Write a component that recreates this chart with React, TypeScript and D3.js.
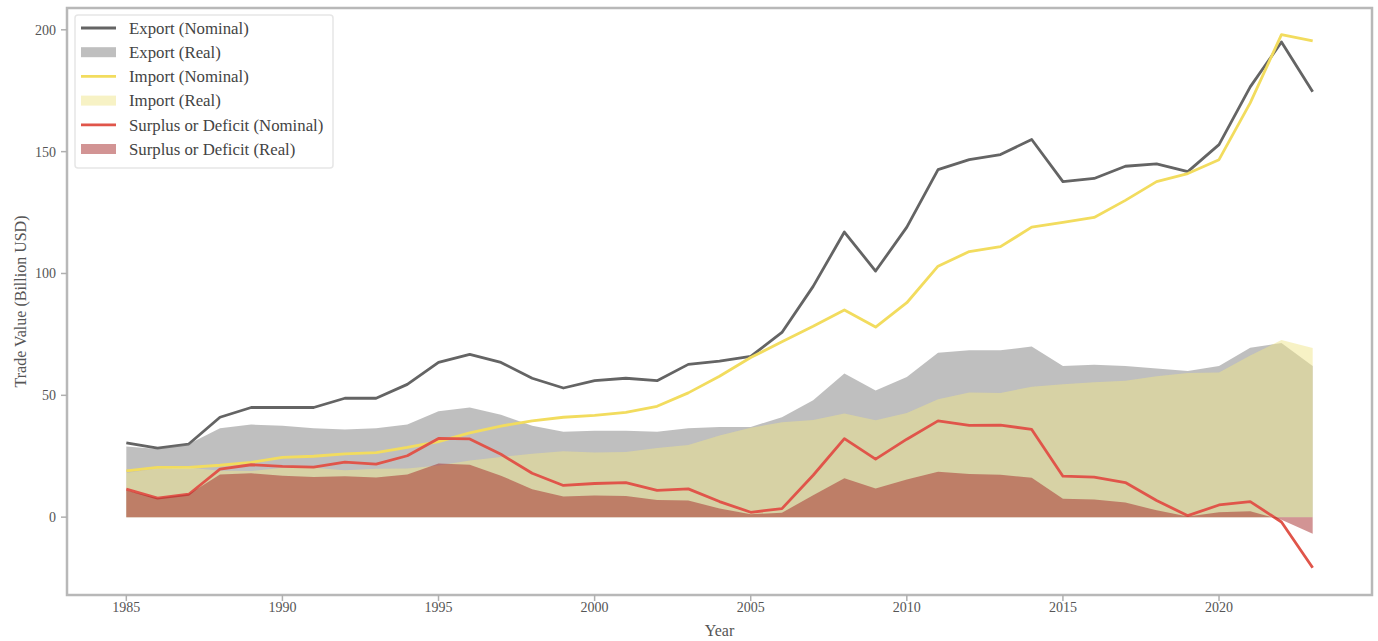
import React from "react";
import * as d3 from "d3";

const years: number[] = d3.range(1985, 2024);

const exportNominal: number[] = [30.5, 28.3, 30.0, 41.0, 45.0, 45.0, 45.0, 48.8, 48.8, 54.5, 63.5, 66.8, 63.5, 57.0, 53.0, 56.0, 57.0, 56.0, 62.7, 64.0, 66.0, 75.8, 94.7, 117.0, 101.0, 119.0, 142.6, 146.7, 148.8, 155.0, 137.7, 139.0, 144.0, 145.0, 141.8, 152.9, 176.6, 195.0, 174.6];
const importNominal: number[] = [19.0, 20.4, 20.4, 21.3, 22.5, 24.5, 25.0, 26.0, 26.5, 28.6, 31.0, 34.6, 37.4, 39.5, 41.0, 41.8, 43.0, 45.5, 51.0, 57.8, 65.5, 72.0, 78.3, 85.0, 78.0, 88.0, 103.0, 109.0, 111.0, 119.0, 121.0, 123.0, 130.0, 137.7, 141.0, 146.7, 170.0, 198.0, 195.5];
const surplusNominal: number[] = [11.5, 7.8, 9.4, 19.7, 21.5, 20.8, 20.5, 22.6, 21.8, 25.2, 32.3, 32.1, 25.8, 18.0, 13.0, 13.8, 14.2, 11.0, 11.6, 6.4, 2.0, 3.5, 17.2, 32.2, 23.8, 32.0, 39.5, 37.7, 37.8, 36.0, 16.8, 16.4, 14.2, 6.8, 0.6, 5.0, 6.4, -2.0, -20.8];
const exportReal: number[] = [29.0, 28.0, 30.0, 36.5, 38.0, 37.5, 36.5, 36.0, 36.5, 38.0, 43.5, 45.0, 42.0, 37.5, 35.0, 35.5, 35.5, 35.0, 36.5, 37.0, 37.0, 41.0, 48.0, 59.0, 52.0, 57.5, 67.5, 68.5, 68.5, 70.0, 62.0, 62.5, 62.0, 61.0, 60.0, 62.0, 69.5, 71.5, 62.0];
const importReal: number[] = [18.1, 20.0, 20.4, 19.0, 18.9, 20.3, 20.3, 19.2, 19.9, 20.0, 21.2, 23.2, 24.7, 26.0, 27.0, 26.5, 26.7, 28.4, 29.6, 33.5, 36.7, 38.9, 39.9, 42.5, 39.8, 42.7, 48.4, 51.2, 51.0, 53.5, 54.5, 55.4, 56.0, 57.8, 59.2, 59.4, 66.3, 72.7, 69.4];
const surplusReal: number[] = [10.9, 7.8, 9.4, 17.5, 18.0, 17.0, 16.5, 16.8, 16.3, 17.5, 22.0, 21.5, 17.0, 11.5, 8.5, 8.9, 8.7, 7.0, 6.8, 3.6, 1.2, 1.8, 9.0, 16.0, 11.8, 15.5, 18.6, 17.7, 17.4, 16.2, 7.6, 7.2, 6.0, 2.8, 0.3, 2.0, 2.4, -1.1, -6.8];

const xTicks: number[] = [1985, 1990, 1995, 2000, 2005, 2010, 2015, 2020];
const yTicks: number[] = [0, 50, 100, 150, 200];

const legendLabels: string[] = [
  "Export (Nominal)",
  "Export (Real)",
  "Import (Nominal)",
  "Import (Real)",
  "Surplus or Deficit (Nominal)",
  "Surplus or Deficit (Real)",
];

const W = 1378;
const H = 641;
const M = { left: 67, right: 1372, top: 8, bottom: 595 };
const FONT = "'Liberation Serif', 'Times New Roman', serif";

const C_EXP = "#646464";
const C_EXP_R = "#808080";
const C_IMP = "#f2dc5e";
const C_IMP_R = "#f0e68c";
const C_SUR = "#e0554a";
const C_SUR_R = "#a52a2a";

export default function App() {
  const x = d3.scaleLinear().domain([1983.1, 2024.9]).range([M.left, M.right]);
  const y = d3.scaleLinear().domain([-31.95, 208.95]).range([M.bottom, M.top]);

  const line = (vals: number[]) =>
    d3
      .line<number>()
      .x((_, i) => x(years[i]))
      .y((d) => y(d))(vals) || "";
  const area = (vals: number[]) =>
    d3
      .area<number>()
      .x((_, i) => x(years[i]))
      .y0(y(0))
      .y1((d) => y(d))(vals) || "";

  const series = [
    { kind: "line", vals: exportNominal, color: C_EXP },
    { kind: "area", vals: exportReal, color: C_EXP_R },
    { kind: "line", vals: importNominal, color: C_IMP },
    { kind: "area", vals: importReal, color: C_IMP_R },
    { kind: "line", vals: surplusNominal, color: C_SUR },
    { kind: "area", vals: surplusReal, color: C_SUR_R },
  ];

  const legX = 75;
  const legY = 15;
  const legW = 258;
  const legH = 153;

  return (
    <div style={{ position: "absolute", left: 0, top: 0, width: W, height: H, background: "#fff" }}>
      <svg width={W} height={H} style={{ display: "block" }}>
        <rect x={0} y={0} width={W} height={H} fill="#fff" />
        {series.map((s, i) =>
          s.kind === "area" ? (
            <path key={i} d={area(s.vals)} fill={s.color} fillOpacity={0.5} stroke="none" />
          ) : (
            <path
              key={i}
              d={line(s.vals)}
              fill="none"
              stroke={s.color}
              strokeWidth={2.8}
              strokeLinejoin="round"
              strokeLinecap="butt"
            />
          )
        )}

        {/* spines */}
        <rect
          x={M.left}
          y={M.top}
          width={M.right - M.left}
          height={M.bottom - M.top}
          fill="none"
          stroke="#b8b8b8"
          strokeWidth={2.5}
        />

        {/* y ticks */}
        {yTicks.map((t) => (
          <g key={"y" + t}>
            <line x1={M.left - 6} x2={M.left} y1={y(t)} y2={y(t)} stroke="#b0b0b0" strokeWidth={1.5} />
            <text
              x={M.left - 11}
              y={y(t)}
              dy="0.35em"
              textAnchor="end"
              fontFamily={FONT}
              fontSize={14}
              fill="#555"
            >
              {t}
            </text>
          </g>
        ))}

        {/* x ticks */}
        {xTicks.map((t) => (
          <g key={"x" + t}>
            <line x1={x(t)} x2={x(t)} y1={M.bottom} y2={M.bottom + 6} stroke="#b0b0b0" strokeWidth={1.5} />
            <text
              x={x(t)}
              y={M.bottom + 17}
              textAnchor="middle"
              fontFamily={FONT}
              fontSize={14}
              fill="#555"
            >
              {t}
            </text>
          </g>
        ))}

        <text
          x={(M.left + M.right) / 2}
          y={636}
          textAnchor="middle"
          fontFamily={FONT}
          fontSize={16}
          fill="#555"
        >
          Year
        </text>
        <text
          transform={`translate(26, ${(M.top + M.bottom) / 2}) rotate(-90)`}
          textAnchor="middle"
          fontFamily={FONT}
          fontSize={16}
          fill="#555"
        >
          Trade Value (Billion USD)
        </text>

        {/* legend */}
        <rect
          x={legX}
          y={legY}
          width={legW}
          height={legH}
          rx={3}
          fill="#fff"
          fillOpacity={0.85}
          stroke="#e6e6e6"
          strokeWidth={1.5}
        />
        {legendLabels.map((lab, i) => {
          const s = series[i];
          const cy = legY + 13 + i * 24.2;
          return (
            <g key={lab}>
              {s.kind === "line" ? (
                <line x1={legX + 6} x2={legX + 41} y1={cy} y2={cy} stroke={s.color} strokeWidth={2.8} />
              ) : (
                <rect x={legX + 6} y={cy - 5} width={35} height={10} fill={s.color} fillOpacity={0.5} />
              )}
              <text
                x={legX + 54}
                y={cy}
                dy="0.35em"
                fontFamily={FONT}
                fontSize={16.8}
                fill="#444"
              >
                {lab}
              </text>
            </g>
          );
        })}
      </svg>
    </div>
  );
}
